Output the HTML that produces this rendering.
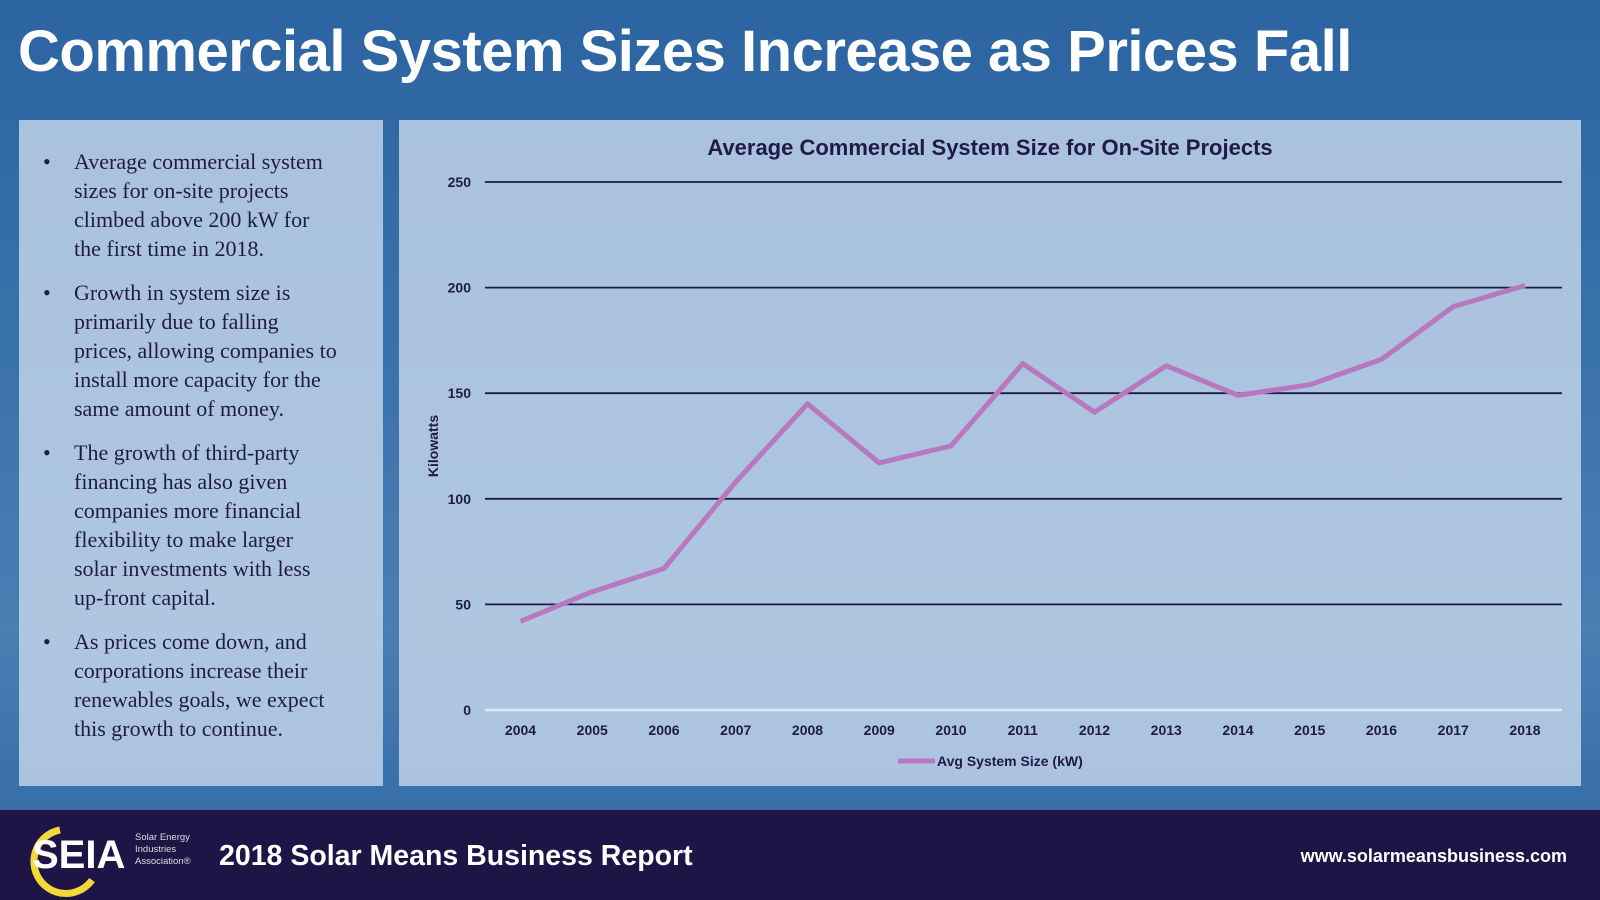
<!DOCTYPE html>
<html><head><meta charset="utf-8"><style>
*{margin:0;padding:0;box-sizing:border-box}
body{width:1600px;height:900px;overflow:hidden;position:relative;font-family:"Liberation Sans",sans-serif;background:linear-gradient(180deg,#2c64a2 0%,#3a72ab 40%,#4a7fb3 70%,#2d66a3 100%)}
#title{position:absolute;left:18px;top:18px;color:#fff;font-weight:bold;font-size:58px;white-space:nowrap;letter-spacing:-0.5px}
#left{position:absolute;left:19px;top:120px;width:364px;height:666px;background:rgba(196,214,234,0.82)}
#left ul{list-style:none;position:absolute;left:0;top:27px;width:364px}
#left li{position:relative;padding-left:55px;font-family:"Liberation Serif",serif;font-size:22px;line-height:29px;color:#1f1a4a;margin-bottom:15px;white-space:nowrap}
#left li:before{content:"•";position:absolute;left:24px;top:0}
#chart{position:absolute;left:399px;top:120px;width:1182px;height:666px;background:rgba(196,214,234,0.82)}
#footer{position:absolute;left:0;top:810px;width:1600px;height:90px;background:#1f1446}
</style></head><body>
<div id="title">Commercial System Sizes Increase as Prices Fall</div>
<div id="left"><ul>
<li>Average commercial system<br>sizes for on-site projects<br>climbed above 200 kW for<br>the first time in 2018.</li>
<li>Growth in system size is<br>primarily due to falling<br>prices, allowing companies to<br>install more capacity for the<br>same amount of money.</li>
<li>The growth of third-party<br>financing has also given<br>companies more financial<br>flexibility to make larger<br>solar investments with less<br>up-front capital.</li>
<li>As prices come down, and<br>corporations increase their<br>renewables goals, we expect<br>this growth to continue.</li>
</ul></div>
<div id="chart"></div>
<svg id="svg" width="1600" height="900" style="position:absolute;left:0;top:0">
<text x="990" y="155" text-anchor="middle" font-size="22" font-weight="bold" fill="#1f1a4a">Average Commercial System Size for On-Site Projects</text>
<text transform="translate(438,446) rotate(-90)" text-anchor="middle" font-size="14" font-weight="bold" fill="#1f1a4a">Kilowatts</text>
<g id="grid"></g><g id="xt"></g>
<path id="line" fill="none" stroke="#b878bf" stroke-width="5" stroke-linejoin="round"/>
<line x1="898" y1="761" x2="935" y2="761" stroke="#b878bf" stroke-width="5"/>
<text x="937" y="766" font-size="14" font-weight="bold" fill="#1f1a4a">Avg System Size (kW)</text>
</svg>
<div id="footer">
<svg width="210" height="90" style="position:absolute;left:20px;top:0">
<path d="M40 20 A32 32 0 1 0 72 70" fill="none" stroke="#f3d83a" stroke-width="7"/>
<text x="12" y="58" font-size="40" font-weight="bold" fill="#fff">SEIA</text>
<text x="115" y="30" font-size="9.5" fill="#ddd">Solar Energy</text>
<text x="115" y="42" font-size="9.5" fill="#ddd">Industries</text>
<text x="115" y="54" font-size="9.5" fill="#ddd">Association®</text>
</svg>
<div style="position:absolute;left:219px;top:30px;color:#fff;font-weight:bold;font-size:28.5px">2018 Solar Means Business Report</div>
<div style="position:absolute;right:33px;top:36px;color:#fff;font-weight:bold;font-size:18px">www.solarmeansbusiness.com</div>
</div>
<script>
const years=["2004","2005","2006","2007","2008","2009","2010","2011","2012","2013","2014","2015","2016","2017","2018"];
const values=[42,56,67,108,145,117,125,164,141,163,149,154,166,191,201];
const yTicks=[0,50,100,150,200,250];
const y=v=>710-(v/250)*528;
const x=i=>520.5+i*71.75;
const ns="http://www.w3.org/2000/svg";
const g=document.getElementById('grid'),xt=document.getElementById('xt');
yTicks.forEach(t=>{
 const l=document.createElementNS(ns,'line');
 l.setAttribute('x1',485);l.setAttribute('x2',1562);l.setAttribute('y1',y(t));l.setAttribute('y2',y(t));
 l.setAttribute('stroke',t===0?'#dfe7f0':'#1f1a4a');l.setAttribute('stroke-width',t===0?2.5:1.8);
 
 
 g.appendChild(l);
 const tx=document.createElementNS(ns,'text');
 tx.setAttribute('x',471);tx.setAttribute('y',y(t)+5);tx.setAttribute('text-anchor','end');
 tx.setAttribute('font-size',14);tx.setAttribute('font-weight','bold');tx.setAttribute('fill','#1f1a4a');
 tx.textContent=t;
 
 
 g.appendChild(tx);
});
years.forEach((yr,i)=>{
 const tx=document.createElementNS(ns,'text');
 tx.setAttribute('x',x(i));tx.setAttribute('y',735);tx.setAttribute('text-anchor','middle');
 tx.setAttribute('font-size',14);tx.setAttribute('font-weight','bold');tx.setAttribute('fill','#1f1a4a');
 tx.textContent=yr;
 
 
 xt.appendChild(tx);
});
document.getElementById('line').setAttribute('d',values.map((v,i)=>(i?'L':'M')+x(i)+' '+y(v)).join(' '));
</script>
</body></html>
